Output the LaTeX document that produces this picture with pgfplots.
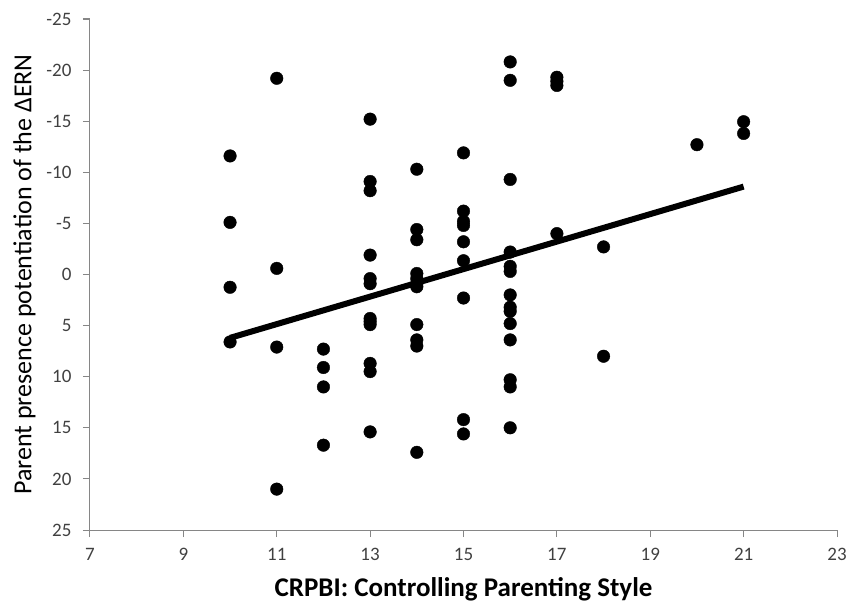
\documentclass[border=0pt]{standalone}
\usepackage{pgfplots}
\pgfplotsset{compat=1.18}
\usepackage{fontspec}
\setmainfont{Carlito}

\definecolor{axisgray}{HTML}{868686}
\definecolor{ticktext}{HTML}{404040}

\begin{document}
\begin{tikzpicture}
    \begin{axis}[
        name=ax,
        scale only axis,
        width=747pt, height=511pt,
        xmin=7, xmax=23,
        ymin=-25, ymax=25,
        y dir=reverse,
        xtick={7,9,11,13,15,17,19,21,23},
        ytick={-25,-20,-15,-10,-5,0,5,10,15,20,25},
        axis x line*=bottom,
        axis y line*=left,
        axis line style={axisgray, line width=1pt, -},
        tick style={axisgray, line width=1pt},
        tick align=outside,
        major tick length=7pt,
        /pgf/number format/assume math mode=true,
        ticklabel style={font=\fontsize{19}{22}\selectfont, text=ticktext},
        xticklabel style={yshift=-8pt},
        yticklabel style={xshift=-8pt},
        xlabel={\bfseries CRPBI: Controlling Parenting Style},
        ylabel={Parent presence potentiation of the ΔERN},
        xlabel style={font=\fontsize{27}{30}\selectfont, text=black, yshift=-10pt},
        ylabel style={font=\fontsize{26}{30}\selectfont, text=black, yshift=4pt},
        clip=false,
    ]
    \addplot[only marks, mark=*, mark size=6.3pt, mark options={fill=black, draw=black}]
        table {
        x y
        10 -11.6
        10 -5.1
        10 1.25
        10 6.6
        11 -19.2
        11 -0.6
        11 7.1
        11 21.0
        12 7.3
        12 9.1
        12 11.0
        12 16.7
        13 -15.2
        13 -9.1
        13 -8.2
        13 -1.9
        13 0.4
        13 0.9
        13 4.3
        13 4.6
        13 4.9
        13 8.7
        13 9.5
        13 15.4
        14 -10.3
        14 -4.4
        14 -3.4
        14 -0.1
        14 0.4
        14 0.9
        14 1.2
        14 4.9
        14 6.4
        14 7.0
        14 17.4
        15 -11.9
        15 -6.2
        15 -5.2
        15 -4.8
        15 -3.2
        15 -1.35
        15 2.3
        15 14.2
        15 15.6
        16 -20.8
        16 -19.0
        16 -9.3
        16 -2.2
        16 -0.8
        16 -0.3
        16 2.0
        16 3.2
        16 3.6
        16 4.8
        16 6.4
        16 10.3
        16 11.0
        16 15.0
        17 -19.3
        17 -18.9
        17 -18.5
        17 -4.0
        18 -2.7
        18 8.0
        20 -12.7
        21 -14.95
        21 -13.8
        };
    % trend line
    \addplot[black, line width=6pt] coordinates {(10,6.2) (21,-8.6)};
    \end{axis}
    \pgfresetboundingbox
    \path (ax.south west) ++(-90pt,-73pt) rectangle ([shift={(22pt,19pt)}]ax.north east);
\end{tikzpicture}
\end{document}
